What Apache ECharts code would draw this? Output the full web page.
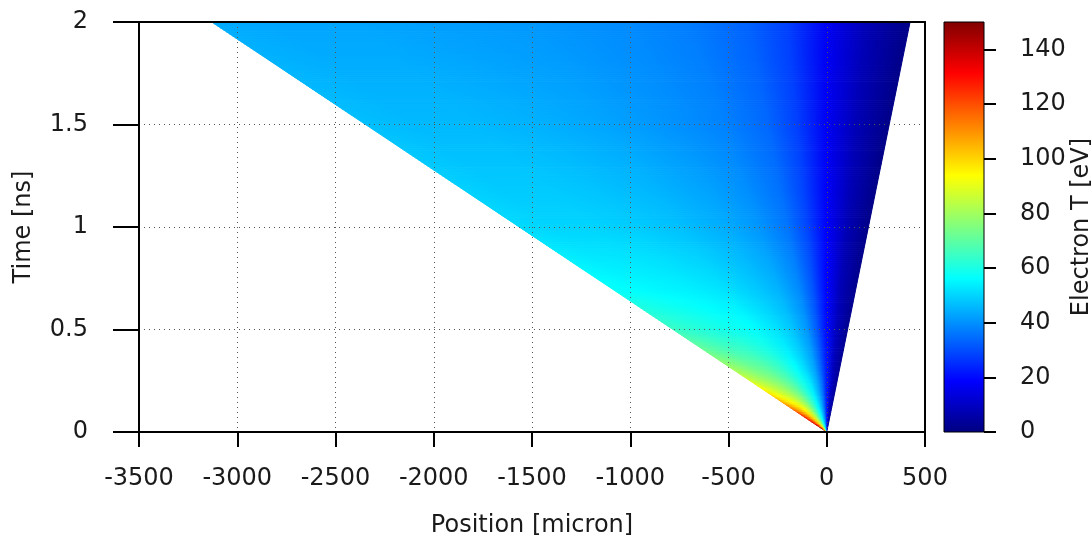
<!DOCTYPE html>
<html><head><meta charset="utf-8">
<script src="https://cdn.jsdelivr.net/npm/echarts@6/dist/echarts.min.js"></script>
<style>html,body{margin:0;padding:0;background:#fff}#c{width:1092px;height:535px}</style>
</head><body><div id="c"></div>
<script>
// ---- data ----
const xRange = [-3500, 500];
const tRange = [0, 2];
const colorRange = [0, 150];
const colorbarTicks = [0, 20, 40, 60, 80, 100, 120, 140];
// similarity coordinate x/t (micron/ns) sampled across the fan, left edge to right edge
const xiSamples = [-1565, -1400, -1200, -1000, -750, -500, -350, -200, -100, 0, 100, 212];
// sample times (ns)
const tSamples = [0.02, 0.05, 0.1, 0.15, 0.2, 0.25, 0.3, 0.4, 0.5, 0.7, 1.0, 1.5, 2.0];
// electron temperature (eV) at each sample time, at the xi samples
const tempRows = [
  [150, 136, 122, 108, 90, 70, 58, 46, 35, 22, 10, 4],
  [138, 126, 114, 102, 86, 68, 57, 45, 35, 22, 10, 4],
  [120, 112, 104, 96, 82, 66, 56, 45, 35, 22, 10, 4],
  [106, 99, 93, 87, 77, 64, 55, 45, 35, 22, 10, 4],
  [96, 90, 85, 80, 72, 61, 54, 44, 35, 22, 10, 3],
  [88, 83, 79, 75, 68, 59, 53, 44, 35, 22, 10, 3],
  [81, 78, 74, 71, 65, 57, 51, 43, 34, 22, 9, 3],
  [72, 69, 66, 64, 60, 54, 49, 42, 33, 21, 9, 3],
  [65, 63, 61, 59, 57, 52, 48, 41, 32, 20, 9, 2],
  [57, 56, 55, 54, 52, 48, 45, 39, 31, 19, 8, 2],
  [51, 50, 50, 49, 47, 44, 41, 36, 29, 18, 8, 1],
  [47, 46, 46, 45, 43, 40, 38, 34, 28, 17, 8, 1],
  [44, 43, 43, 42, 41, 39, 37, 33, 28, 17, 8, 1]
];

// ---- styling ----
const jetStops = [[0,[0,0,128]],[0.125,[0,0,255]],[0.375,[0,255,255]],[0.625,[255,255,0]],[0.875,[255,0,0]],[1,[128,0,0]]];
function rgb(c){return 'rgb('+c.map(Math.round).join(',')+')';}
function jet(v){
  const t = Math.max(0, Math.min(1, (v - colorRange[0]) / (colorRange[1] - colorRange[0])));
  for (let i = 1; i < jetStops.length; i++) {
    if (t <= jetStops[i][0]) {
      const p0 = jetStops[i-1][0], c0 = jetStops[i-1][1], p1 = jetStops[i][0], c1 = jetStops[i][1];
      const f = (t - p0) / (p1 - p0);
      return rgb(c0.map((c,k)=>c + (c1[k]-c)*f));
    }
  }
  return rgb(jetStops[jetStops.length-1][1]);
}
const FONT = 'DejaVu Sans';
const FS = 24;
const TXT = '#1a1a1a';

const chart = echarts.init(document.getElementById('c'), null, {renderer:'canvas'});

// one item per time segment ending at tSamples[j]
const segData = tSamples.map((t, j) => [0, t, j]);

function renderSeg(params, api){
  const j = api.value(2);
  const tb = j === 0 ? tRange[0] : tSamples[j-1];
  const tt = tSamples[j];
  const rowB = j === 0 ? tempRows[0] : tempRows[j-1];
  const rowT = tempRows[j];
  const xl = xiSamples[0], xr = xiSamples[xiSamples.length-1];
  const pyB = api.coord([0, tb])[1], pyT = api.coord([0, tt])[1];
  const n = Math.max(1, Math.ceil((pyB - pyT) / 2));
  const children = [];
  for (let s = 0; s < n; s++) {
    const s0 = tb + (tt - tb) * s / n, s1 = tb + (tt - tb) * (s + 1) / n, sm = (s0 + s1) / 2;
    const f = (sm - tb) / (tt - tb);
    const pts = [api.coord([xl*s0, s0]), api.coord([xr*s0, s0]), api.coord([xr*s1, s1]), api.coord([xl*s1, s1])];
    const a = api.coord([xl*sm, sm]), b = api.coord([xr*sm, sm]);
    const stops = xiSamples.map((xi, k) => ({offset: (xi - xl) / (xr - xl), color: jet(rowB[k] + (rowT[k] - rowB[k]) * f)}));
    const grad = new echarts.graphic.LinearGradient(a[0], 0, b[0], 0, stops, true);
    children.push({type:'polygon', shape:{points: pts}, style:{fill: grad, stroke: grad, lineWidth: 1}});
  }
  return {type:'group', children};
}

function renderColorbar(params, api){
  const p0 = api.coord([0, colorRange[0]]);
  const p1 = api.coord([1, colorRange[1]]);
  const grad = new echarts.graphic.LinearGradient(0, 1, 0, 0, jetStops.map(s => ({offset: s[0], color: rgb(s[1])})));
  return {type:'rect', shape:{x: p0[0], y: p1[1], width: p1[0]-p0[0], height: p0[1]-p1[1]}, style:{fill: grad, stroke:'#000', lineWidth: 1}};
}

const axisLine = {show:true, onZero:false, lineStyle:{color:'#000', width:2}};
const dotted = {show:true, lineStyle:{color:'#555', width:1, type:[1,4]}};
const fmt = v => String(v);

chart.setOption({
  animation:false,
  backgroundColor:'#fff',
  textStyle:{fontFamily: FONT},
  grid:[
    {left:139, top:22, width:786, height:410, outerBoundsMode:'none', containLabel:false},
    {left:944, top:22, width:40, height:410, outerBoundsMode:'none', containLabel:false}
  ],
  xAxis:[
    {gridIndex:0, type:'value', min:xRange[0], max:xRange[1], interval:500, z:5,
     axisLine: axisLine, axisTick:{show:true, inside:false, length:15, lineStyle:{color:'#000', width:2}},
     axisLabel:{margin:35, fontSize:FS, color:TXT, fontFamily:FONT, formatter: fmt},
     splitLine: dotted,
     name:'Position [micron]', nameLocation:'middle', nameGap:82, nameTextStyle:{fontSize:FS, color:TXT, fontFamily:FONT}},
    {gridIndex:0, type:'value', position:'top', min:xRange[0], max:xRange[1], z:5,
     axisLine: axisLine, axisTick:{show:false}, axisLabel:{show:false}, splitLine:{show:false}},
    {gridIndex:1, type:'value', min:0, max:1, show:false}
  ],
  yAxis:[
    {gridIndex:0, type:'value', min:tRange[0], max:tRange[1], interval:0.5, z:5,
     axisLine: axisLine, axisTick:{show:true, inside:false, length:26, lineStyle:{color:'#000', width:2}},
     axisLabel:{margin:51, fontSize:FS, color:TXT, fontFamily:FONT, formatter: fmt},
     splitLine: dotted,
     name:'Time [ns]', nameLocation:'middle', nameGap:103, nameTextStyle:{fontSize:FS, color:TXT, fontFamily:FONT}},
    {gridIndex:0, type:'value', position:'right', min:tRange[0], max:tRange[1], z:5,
     axisLine: axisLine, axisTick:{show:false}, axisLabel:{show:false}, splitLine:{show:false}},
    {gridIndex:1, type:'value', position:'right', min:colorRange[0], max:colorRange[1], z:5,
     axisLine:{show:false, onZero:false},
     axisTick:{show:true, inside:false, length:12, customValues: colorbarTicks, lineStyle:{color:'#000', width:2}},
     axisLabel:{margin:36, fontSize:FS, color:TXT, fontFamily:FONT, customValues: colorbarTicks, formatter: fmt},
     splitLine:{show:false},
     name:'Electron T [eV]', nameLocation:'middle', nameGap:82, nameTextStyle:{fontSize:FS, color:TXT, fontFamily:FONT}}
  ],
  series:[
    {type:'custom', xAxisIndex:0, yAxisIndex:0, data: segData, renderItem: renderSeg, z:2, silent:true},
    {type:'custom', xAxisIndex:2, yAxisIndex:2, data: [[0, colorRange[1]]], renderItem: renderColorbar, z:2, silent:true}
  ]
});
</script>
</body></html>
